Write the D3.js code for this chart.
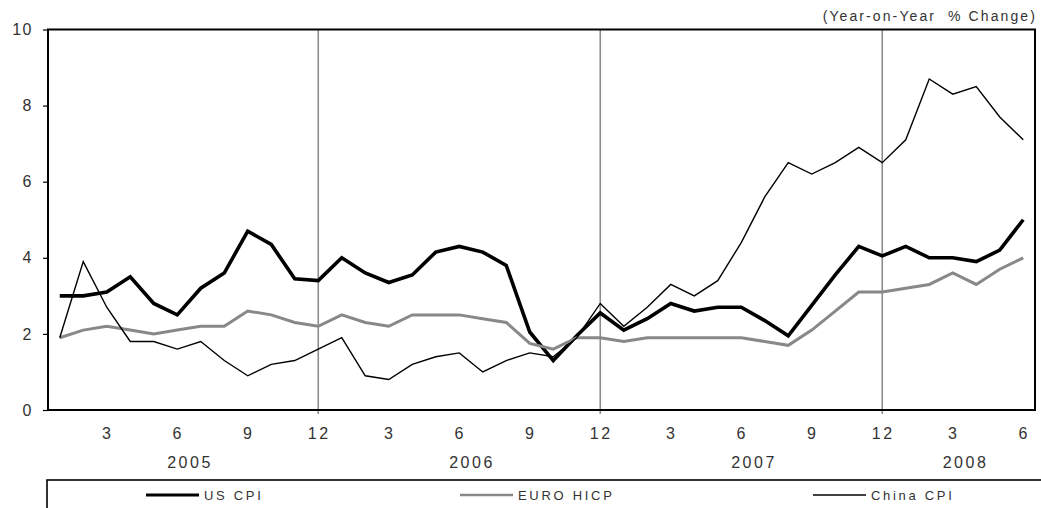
<!DOCTYPE html>
<html>
<head>
<meta charset="utf-8">
<script src="https://cdn.jsdelivr.net/npm/d3@7"></script>
<style>
  body { margin: 0; background: #fff; }
  svg text { font-family: "Liberation Sans", Arial, sans-serif; fill: #333; }
</style>
</head>
<body>
<svg id="chart" width="1041" height="508"></svg>
<script>
// monthly data, Jan 2005 .. Jun 2008
var months = ["1","2","3","4","5","6","7","8","9","10","11","12",
              "1","2","3","4","5","6","7","8","9","10","11","12",
              "1","2","3","4","5","6","7","8","9","10","11","12",
              "1","2","3","4","5","6"];
var years = ["2005", "2006", "2007", "2008"];
var usCPI = [3.0, 3.0, 3.1, 3.5, 2.8, 2.5, 3.2, 3.6, 4.7, 4.35, 3.45, 3.4,
             4.0, 3.6, 3.35, 3.55, 4.15, 4.3, 4.15, 3.8, 2.05, 1.3, 1.95, 2.55,
             2.1, 2.4, 2.8, 2.6, 2.7, 2.7, 2.35, 1.95, 2.75, 3.55, 4.3, 4.05,
             4.3, 4.0, 4.0, 3.9, 4.2, 5.0];
var euroHICP = [1.9, 2.1, 2.2, 2.1, 2.0, 2.1, 2.2, 2.2, 2.6, 2.5, 2.3, 2.2,
                2.5, 2.3, 2.2, 2.5, 2.5, 2.5, 2.4, 2.3, 1.75, 1.6, 1.9, 1.9,
                1.8, 1.9, 1.9, 1.9, 1.9, 1.9, 1.8, 1.7, 2.1, 2.6, 3.1, 3.1,
                3.2, 3.3, 3.6, 3.3, 3.7, 4.0];
var chinaCPI = [1.9, 3.9, 2.7, 1.8, 1.8, 1.6, 1.8, 1.3, 0.9, 1.2, 1.3, 1.6,
                1.9, 0.9, 0.8, 1.2, 1.4, 1.5, 1.0, 1.3, 1.5, 1.4, 1.9, 2.8,
                2.2, 2.7, 3.3, 3.0, 3.4, 4.4, 5.6, 6.5, 6.2, 6.5, 6.9, 6.5,
                7.1, 8.7, 8.3, 8.5, 7.7, 7.1];
var yTicks = [0, 2, 4, 6, 8, 10];
var xLabelEvery = 3;

var svg = d3.select("#chart");
var plotLeft = 48, plotRight = 1035, plotTop = 29.5, plotBottom = 410;

var idx = d3.range(months.length);
var x = d3.scalePoint().domain(idx).range([plotLeft, plotRight]).padding(0.5);
var y = d3.scaleLinear().domain([0, 10]).range([plotBottom, plotTop]);

// december separators
var decIdx = idx.filter(function (i) { return months[i] === "12"; });
svg.selectAll(".sep")
    .data(decIdx)
    .enter().append("line")
    .attr("class", "sep")
    .attr("x1", function (d) { return x(d); })
    .attr("x2", function (d) { return x(d); })
    .attr("y1", plotTop)
    .attr("y2", plotBottom + 4)
    .attr("stroke", "#8c8c8c")
    .attr("stroke-width", 1.6);

// lines
var series = [
    {name: "US CPI", values: usCPI, color: "#000", width: 3.6},
    {name: "EURO HICP", values: euroHICP, color: "#888", width: 3},
    {name: "China CPI", values: chinaCPI, color: "#000", width: 1.4}
];
var line = d3.line()
    .x(function (d, i) { return x(i); })
    .y(function (d) { return y(d); });

svg.selectAll(".series")
    .data(series)
    .enter().append("path")
    .attr("class", "series")
    .attr("d", function (d) { return line(d.values); })
    .attr("fill", "none")
    .attr("stroke", function (d) { return d.color; })
    .attr("stroke-width", function (d) { return d.width; })
    .attr("stroke-linejoin", "miter");

// frame
svg.append("rect")
    .attr("x", plotLeft).attr("y", plotTop)
    .attr("width", plotRight - plotLeft).attr("height", plotBottom - plotTop)
    .attr("fill", "none").attr("stroke", "#000").attr("stroke-width", 2);

// y axis
var yAxis = svg.append("g")
    .attr("transform", "translate(" + plotLeft + ",0)")
    .call(d3.axisLeft(y).tickValues(yTicks).tickSize(5).tickPadding(10));
yAxis.select(".domain").remove();
yAxis.selectAll("line").attr("stroke", "#000").attr("stroke-width", 1.2);
yAxis.selectAll("text")
    .style("font-size", "16px")
    .style("letter-spacing", "1.5px")
    .style("font-family", "Liberation Sans, Arial, sans-serif")
    .attr("fill", "#333");

// x month labels
svg.selectAll(".mlabel")
    .data(idx.filter(function (i) { return (+months[i]) % xLabelEvery === 0; }))
    .enter().append("text")
    .attr("class", "mlabel")
    .attr("x", function (d) { return x(d) + 1; })
    .attr("y", 439)
    .attr("text-anchor", "middle")
    .style("font-size", "16px")
    .style("letter-spacing", "2.5px")
    .text(function (d) { return months[d]; });

// year labels, centred over each year's months
svg.selectAll(".ylabel")
    .data(years)
    .enter().append("text")
    .attr("class", "ylabel")
    .attr("x", function (d, k) {
        var ii = idx.filter(function (i) { return Math.floor(i / 12) === k; });
        return (x(ii[0]) + x(ii[ii.length - 1])) / 2 + 1;
    })
    .attr("y", 468)
    .attr("text-anchor", "middle")
    .style("font-size", "16px")
    .style("letter-spacing", "2.5px")
    .text(function (d) { return d; });

// unit note
svg.append("text")
    .attr("x", plotRight + 2)
    .attr("y", 21)
    .attr("text-anchor", "end")
    .style("font-size", "14px")
    .style("letter-spacing", "2.1px")
    .style("white-space", "pre")
    .text("(Year-on-Year  % Change)");

// legend
svg.append("rect")
    .attr("x", 47).attr("y", 480)
    .attr("width", 1010).attr("height", 40)
    .attr("fill", "none").attr("stroke", "#000").attr("stroke-width", 1.6);

var legendX = [146, 460, 813];
var leg = svg.selectAll(".leg")
    .data(series)
    .enter().append("g")
    .attr("class", "leg")
    .attr("transform", function (d, i) { return "translate(" + legendX[i] + ",495)"; });
leg.append("line")
    .attr("x1", 0).attr("x2", 53)
    .attr("stroke", function (d) { return d.color; })
    .attr("stroke-width", function (d) { return Math.max(d.width - 0.4, 1.4); });
leg.append("text")
    .attr("x", 58)
    .attr("dy", "0.36em")
    .style("font-size", "13px")
    .style("letter-spacing", "2.7px")
    .text(function (d) { return d.name; });
</script>
</body>
</html>
